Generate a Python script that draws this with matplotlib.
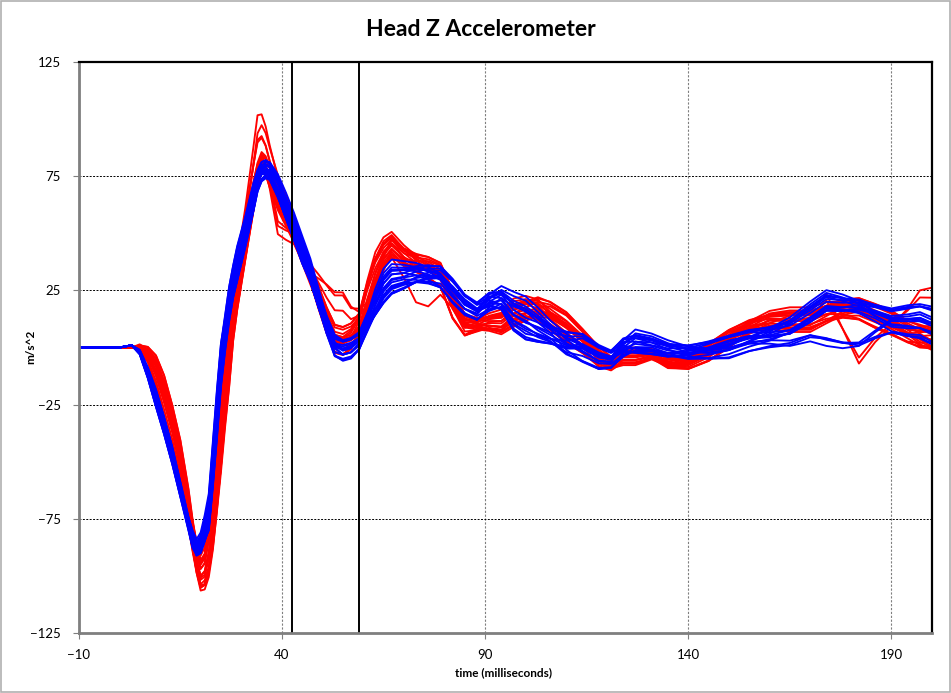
import matplotlib
matplotlib.use("Agg")
import matplotlib.pyplot as plt
import numpy as np
from matplotlib.patches import Rectangle

plt.rcParams['font.family'] = ['Lato', 'DejaVu Sans']

# shared time base of every trace (ms)
time_ms = [-10, 0, 3, 5, 7, 9, 11, 13, 15, 17,
           18, 19, 20, 21, 22, 23, 24, 25, 26, 27,
           28, 29, 31, 33, 34, 35, 36, 37, 39, 41,
           43, 45, 47, 49, 51, 53, 55, 57, 59, 61,
           63, 65, 67, 70, 73, 76, 79, 82, 85, 88,
           91, 94, 97, 100, 103, 106, 110, 114, 118, 121,
           124, 127, 131, 135, 140, 145, 150, 155, 160, 165,
           170, 174, 178, 182, 186, 190, 194, 197, 200]

# ---- red group: centre trace and spread
red_mean = [0, 0, 0, 0, -3, -10, -21, -34, -49, -70,
            -82, -92, -99, -97, -88, -74, -56, -38, -20, -5,
            14, 27, 48, 68, 77, 82, 80, 75, 66, 59,
            51, 42, 32, 22, 12, 4, 3, 5, 10, 22,
            33, 41, 45, 40, 37, 35, 32, 19, 10, 10,
            11, 11, 15, 17, 17, 14, 9, 3, -4, -7,
            -4, -4, -3, -6, -7, -2, 4, 9, 12, 12,
            12, 15, 17, 17, 14, 11, 7, 5, 4]
red_spread = [0, 0, 0, 1, 3, 6, 8, 8, 8, 8,
              7, 7, 7, 8, 12, 15, 17, 17, 15, 12,
              10, 9, 8, 7, 6, 5, 5, 5, 5, 5,
              4, 4, 4, 5, 5, 5, 5, 5, 5, 7,
              7, 5, 4, 4, 4, 4, 4, 5, 4, 3,
              3, 4, 4, 4, 5, 5, 5, 4, 4, 3,
              3, 3, 2, 3, 2, 3, 3, 3, 3, 4,
              4, 4, 4, 4, 4, 4, 4, 5, 5]
red_wobble = [0, 0, 0, 0, 1, 2, 3, 3, 2, 1,
              0, -2, -3, -4, -5, -5, -4, -2, 0, 2,
              3, 4, 4, 3, 2, 0, -1, -2, -3, -3,
              -3, -3, -2, 0, 2, 3, 3, 2, 0, -2,
              -4, -4, -3, -2, 0, 2, 3, 3, 2, 0,
              -2, -3, -4, -3, 0, 3, 4, 3, 1, 0,
              -2, -2, -1, 0, 1, 2, 2, 0, -2, -3,
              -3, -2, 0, 2, 3, 3, 2, 0, -2]
# odd red traces (deviation from the centre trace)
red_high_peak = {29: 1, 31: 4, 33: 12, 34: 18, 35: 15, 36: 12, 37: 9, 39: 4, 41: 2}
red_shoulder = {36: -2, 37: -5, 39: -16, 41: -11, 43: -4, 45: -2, 47: 2, 49: 8,
                51: 14, 53: 18, 55: 19, 57: 11, 59: 5, 61: -6, 63: -8, 65: -5}
red_late = {160: 0, 165: 4, 170: 6, 174: 10, 178: -8, 182: -24, 186: -12,
            190: -2, 194: 10, 197: 21, 200: 24}
red_late_start = {5: 2, 7: 5, 9: 11, 11: 13, 13: 10, 15: 6, 17: 3, 18: 1}
red_dip = {67: -2, 70: -6, 73: -14, 76: -14, 79: -6, 82: 2}

red_w1 = [1.0, 0.8, 0.6, 0.4, 0.2, 0.0, -0.2, -0.4, -0.6, -0.8,
          -1.0, 0.9, 0.5, -0.1, -0.5, -0.9, 0.3, -0.3, 0.7, -0.7]
red_w2 = [0.3, -0.8, 0.6, -0.4, 1.0, -0.7, 0.4, 0.9, -1.0, 0.1,
          -0.3, 0.5, -0.5, 0.0, 0.7, -0.6, -1.0, 1.0, -0.2, 0.8]
red_w_peak = [1.0, 0.75, 0.5, 0, 0, 0, 0, 0, 0, 0, 0, 0.35, 0, 0, 0, 0, 0, 0, 0, 0]
red_w_shoulder = [0, 0, 0, 1.0, 0.9, 0.8, 0, 0, 0, 0, 0, 0, 0, 0, 0, 0, 0, 0, 0, 0]
red_w_late = [0, 0, 0, 0, 0, 0, 1.0, 0.9, 0, 0, 0, 0, 0, 0, 0, 0, 0, 0, 0, 0]
red_w_start = [0, 0, 0, 0, 0, 0, 0, 0, 1.0, 0, 0, 0, 0, 0, 0, 0, 0, 0, 0, 0]
red_w_dip = [0, 0, 0, 0, 0, 0, 0, 0, 0, 1.0, 0, 0, 0, 0, 0, 0, 0, 0, 0, 0]

# ---- blue group
blue_mean = [0, 0, 1, -2, -11, -22, -34, -47, -62, -77,
             -84, -88, -86, -80, -73, -52, -30, -8, 6, 19,
             29, 37, 51, 66, 73, 77, 78, 77, 70, 61,
             52, 42, 33, 21, 10, 1, -1, 0, 3, 11,
             19, 26, 30, 31, 32, 32, 31, 25, 19, 16,
             20, 21, 15, 12, 9, 6, 2, 0, -4, -5,
             0, 2, 1, -1, -2, -1, 1, 4, 6, 9,
             15, 20, 19, 18, 15, 12, 12, 12, 10]
blue_spread = [0, 0, 0, 1, 2, 3, 3, 3, 3, 3,
               4, 3, 3, 5, 8, 10, 11, 10, 8, 7,
               6, 6, 5, 5, 4, 4, 4, 4, 5, 5,
               4, 4, 4, 4, 4, 4, 3, 3, 3, 4,
               5, 5, 5, 4, 4, 4, 4, 4, 3, 3,
               4, 4, 5, 5, 5, 4, 5, 5, 4, 3,
               4, 4, 3, 3, 3, 3, 3, 3, 3, 3,
               3, 3, 3, 3, 3, 4, 5, 5, 6]
blue_wobble = [0, 0, 0, 0, 1, 2, 2, 2, 1, 0,
               -1, -2, -3, -3, -3, -3, -3, -2, 0, 2,
               3, 4, 4, 3, 2, 1, 0, -1, -2, -3,
               -4, -4, -3, -2, 0, 2, 3, 3, 2, 0,
               -3, -5, -5, -4, -2, 0, 2, 3, 3, 2,
               0, -3, -6, -7, -5, -3, 0, 3, 3, 2,
               0, -3, -3, -2, 0, 2, 3, 2, 0, -2,
               -3, -3, -2, 0, 2, 3, 4, 5, 5]
blue_low = {150: -1, 155: -2, 160: -4, 165: -8, 170: -12, 174: -19,
            178: -19, 182: -17, 186: -8, 190: 0}

blue_w1 = [1.0, 0.8, 0.6, 0.4, 0.2, 0.0, -0.2, -0.4, -0.6,
           -0.8, -1.0, 0.9, 0.5, -0.1, -0.5, -0.9, 0.3, -0.3]
blue_w2 = [0.2, -0.9, 0.6, -0.4, 1.0, -0.7, 0.4, 0.9, -1.0,
           0.1, -0.3, 0.5, -0.5, 0.0, 0.7, -0.6, -1.0, 1.0]
blue_w_low = [0, 0, 0, 1.0, 0, 0, 0, 0, 0.9, 0, 0, 0, 0, 1.0, 0, 0.8, 0, 0]

event_lines_ms = [42.5, 59]
x_ticks = [-10, 40, 90, 140, 190]
y_ticks = [-125, -75, -25, 25, 75, 125]


def dev(points):
    return np.array([points.get(t, 0) for t in time_ms], dtype=float)


t = np.array(time_ms, dtype=float)

red_traces = []
for i in range(len(red_w1)):
    y = (np.array(red_mean, float) + red_w1[i] * np.array(red_spread, float)
         + red_w2[i] * np.array(red_wobble, float)
         + red_w_peak[i] * dev(red_high_peak) + red_w_shoulder[i] * dev(red_shoulder)
         + red_w_late[i] * dev(red_late) + red_w_start[i] * dev(red_late_start)
         + red_w_dip[i] * dev(red_dip))
    red_traces.append(y)

blue_traces = []
for i in range(len(blue_w1)):
    y = (np.array(blue_mean, float) + blue_w1[i] * np.array(blue_spread, float)
         + blue_w2[i] * np.array(blue_wobble, float)
         + blue_w_low[i] * dev(blue_low))
    blue_traces.append(y)

fig = plt.figure(figsize=(9.51, 6.93), dpi=100)
ax = fig.add_axes([0.0828, 0.0861, 0.8973, 0.8248])

for y in red_traces:
    ax.plot(t, y, color='#ff0000', lw=1.35, zorder=3, solid_joinstyle='round')
for y in blue_traces:
    ax.plot(t, y, color='#0000ff', lw=1.35, zorder=4, solid_joinstyle='round')

for x in event_lines_ms:
    ax.axvline(x, color='black', lw=1.4, zorder=6)

ax.set_xlim(-10, 200)
ax.set_ylim(-125, 125)
ax.set_xticks(x_ticks)
ax.set_yticks(y_ticks)
ax.yaxis.grid(True, color='black', ls=(0, (2, 1.5)), lw=0.7)
ax.xaxis.grid(True, color='#7f7f7f', ls=(0, (2, 1.5)), lw=0.8)
ax.set_axisbelow(True)

for side in ['left', 'bottom']:
    ax.spines[side].set_color('#7f7f7f')
    ax.spines[side].set_linewidth(2.0)
for side in ['top', 'right']:
    ax.spines[side].set_color('black')
    ax.spines[side].set_linewidth(1.6)
for sp in ax.spines.values():
    sp.set_zorder(7)

ax.tick_params(axis='both', direction='out', length=4, width=0.8, color='#7f7f7f',
               labelsize=9.5, pad=9)
ax.tick_params(axis='x', pad=7)

fig.text(0.529, 0.030, 'time (milliseconds)', ha='center', va='center',
         fontsize=8.5, fontweight='bold')
fig.text(0.032, 0.499, 'm/s^2', ha='center', va='center', rotation=90,
         fontsize=8.5, fontweight='bold')

fig.text(0.506, 0.957, 'Head Z Accelerometer', ha='center', va='center',
         fontsize=16.5, fontweight='bold')

fig.patches.append(Rectangle((0.001, 0.001), 0.998, 0.997, transform=fig.transFigure,
                             fill=False, edgecolor='#b0b0b0', lw=1.2))

fig.savefig('out.png', dpi=100)
